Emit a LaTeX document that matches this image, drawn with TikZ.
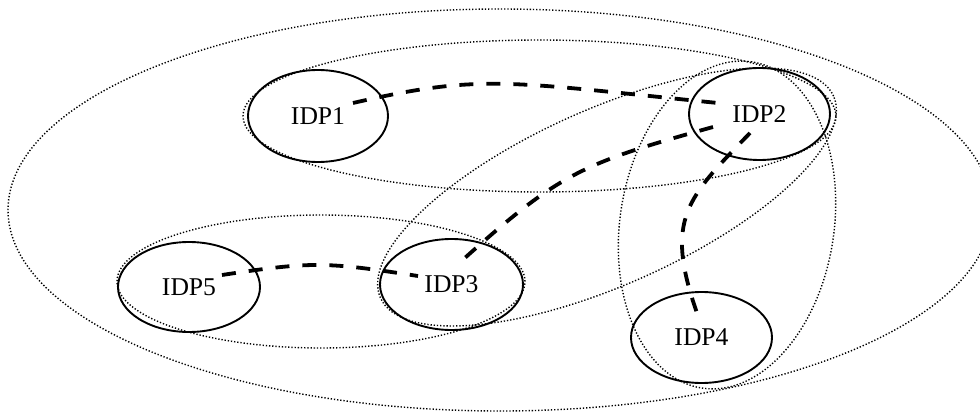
\documentclass[tikz,border=0pt]{standalone}
\usepackage{fontspec}
\setmainfont{Liberation Serif}
\usetikzlibrary{shapes.geometric}

\tikzset{
  idp/.style={ellipse, draw, line width=1.9pt, inner sep=0pt,
    font=\fontsize{25.6}{30}\selectfont},
  grp/.style={line width=1.4pt, dash pattern=on 1.3pt off 1.9pt},
  link/.style={line width=3.8pt, dash pattern=on 14pt off 13pt}
}

\begin{document}
\begin{tikzpicture}[x=1pt, y=1pt]
\useasboundingbox (0,0) rectangle (980,413);

% grouping ellipses (dotted)
\draw[grp] (500,203) ellipse [x radius=492, y radius=201];
\draw[grp] (539.5,297) ellipse [x radius=296.5, y radius=76];
\draw[grp] (321,131.5) ellipse [x radius=204, y radius=66.5];
\draw[grp, rotate around={24:(607,216)}] (607,216) ellipse [x radius=248, y radius=88];
\draw[grp, rotate around={81.3:(727,188)}] (727,188) ellipse [x radius=165, y radius=107];

% identity providers
\node[idp, minimum width=140pt, minimum height=92pt] (IDP1) at (318,297) {IDP1};
\node[idp, minimum width=141pt, minimum height=92pt] (IDP2) at (759.5,299) {IDP2};
\node[idp, minimum width=143pt, minimum height=91pt] (IDP3) at (451.5,128.5) {IDP3};
\node[idp, minimum width=141pt, minimum height=91pt] (IDP4) at (701.5,75.5) {IDP4};
\node[idp, minimum width=142pt, minimum height=90pt] (IDP5) at (189,126) {IDP5};

% trust links (dashed)
\draw[link] ([shift={(35,13)}]IDP1.center)
  .. controls +(130,29.9) and +(-210,21) .. ([shift={(-41.5,11)}]IDP2.center);
\draw[link] ([shift={(-46.5,-13)}]IDP2.center)
  .. controls +(-133,-37) and +(102.6,92.3) .. ([shift={(5.5,19.5)}]IDP3.center);
\draw[link] ([shift={(-9.5,-19)}]IDP2.center)
  .. controls +(-63,-65) and +(-33,94) .. ([shift={(-4.5,24.5)}]IDP4.center);
\draw[link] ([shift={(33,12)}]IDP5.center)
  .. controls +(92,14) and +(-92,14) .. ([shift={(-33.5,8.5)}]IDP3.center);
\end{tikzpicture}
\end{document}
